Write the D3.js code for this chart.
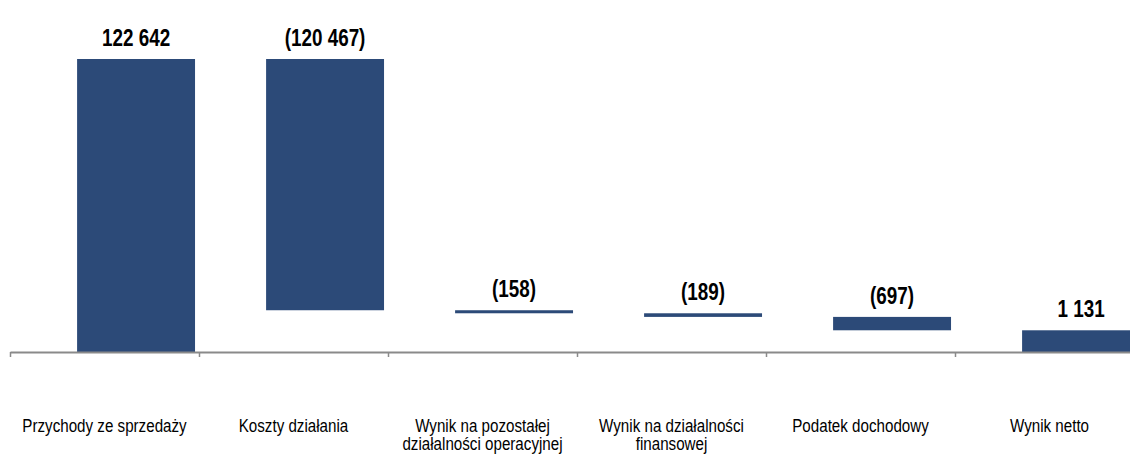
<!DOCTYPE html>
<html>
<head>
<meta charset="utf-8">
<script src="https://cdn.jsdelivr.net/npm/d3@7"></script>
<style>
  body { margin: 0; background: #fff; }
  svg { display: block; }
  text { font-family: "Liberation Sans", Arial, sans-serif; fill: #000; }
</style>
</head>
<body>
<script>
// chart data
var categories = ['Przychody ze sprzedaży', 'Koszty działania', 'Wynik na pozostałej działalności operacyjnej',
                  'Wynik na działalności finansowej', 'Podatek dochodowy', 'Wynik netto'];
var labelLines = [['Przychody ze sprzedaży'], ['Koszty działania'], ['Wynik na pozostałej', 'działalności operacyjnej'],
                  ['Wynik na działalności', 'finansowej'], ['Podatek dochodowy'], ['Wynik netto']];
var values = [122642, -120467, -158, -189, -697, 1131];
var isTotal = [false, false, false, false, false, true];
var valueLabels = ['122 642', '(120 467)', '(158)', '(189)', '(697)', '1 131'];

var width = 1130, height = 454;
var margin = {left: 10, baseline: 352, top: 59};
var narrow = 0.82; // no Arial Narrow here, squeeze Arial instead

var svg = d3.select('body').append('svg')
    .attr('width', width)
    .attr('height', height);

// waterfall: start / end of every bar
var running = 0;
var bars = categories.map(function(c, i) {
    var start, end;
    if (isTotal[i]) { start = 0; end = values[i]; running = values[i]; }
    else { start = running; end = running + values[i]; running = end; }
    return {cat: c, i: i, lo: Math.min(start, end), hi: Math.max(start, end)};
});

//x: one band per category
var step = 189;
var x = d3.scaleBand().domain(categories).range([margin.left, margin.left + step * categories.length]).padding(0);
var xEdges = d3.scaleLinear().domain([0, categories.length]).range(x.range());

//y: broken axis, small values are stretched
var y = d3.scaleLinear()
    .domain([0, 2500, d3.max(bars, function(d) { return d.hi; })])
    .range([margin.baseline, margin.baseline - 48, margin.top]);

var bw = x.bandwidth();
svg.append('g').selectAll('rect')
    .data(bars).enter().append('rect')
    .attr('x', function(d) { return x(d.cat) + bw * 0.355; })
    .attr('width', bw * 0.624)
    .attr('y', function(d) { return y(d.hi); })
    .attr('height', function(d) { return Math.max(2.5, y(d.lo) - y(d.hi)); })
    .attr('fill', '#2c4a78');

// value labels
svg.append('g').selectAll('text')
    .data(bars).enter().append('text')
    .attr('transform', function(d) {
        var cx = x(d.cat) + bw * 0.355 + bw * 0.312;
        return 'translate(' + cx + ',' + (y(d.hi) - 13) + ') scale(' + narrow + ',1)';
    })
    .attr('text-anchor', 'middle')
    .style('font-size', '23px')
    .style('font-weight', 'bold')
    .text(function(d) { return valueLabels[d.i]; });

// axis with ticks at band edges
var axis = svg.append('g')
    .attr('transform', 'translate(0,' + margin.baseline + ')')
    .call(d3.axisBottom(xEdges).tickValues(d3.range(0, categories.length + 1)).tickSize(5).tickSizeOuter(0).tickFormat(''));
axis.select('.domain').attr('stroke', '#8a8a8a').attr('stroke-width', 2);
axis.selectAll('.tick line').attr('stroke', '#8a8a8a').attr('stroke-width', 1.5);

// category labels
var lbl = svg.append('g').selectAll('text')
    .data(categories).enter().append('text')
    .attr('transform', function(d) {
        return 'translate(' + (x(d) + bw / 2) + ',432) scale(' + narrow + ',1)';
    })
    .attr('text-anchor', 'middle')
    .style('font-size', '18.5px');
lbl.selectAll('tspan')
    .data(function(d, i) { return labelLines[i]; }).enter().append('tspan')
    .attr('x', 0)
    .attr('dy', function(d, j) { return j === 0 ? 0 : 18.5; })
    .text(function(d) { return d; });
</script>
</body>
</html>
